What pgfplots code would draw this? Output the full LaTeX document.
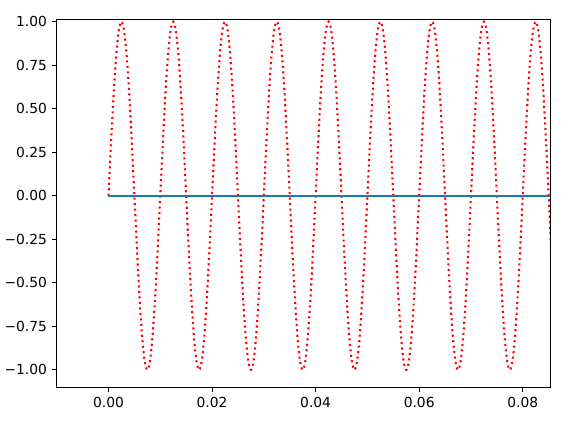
\documentclass[border=0pt]{standalone}
\usepackage{pgfplots}
\pgfplotsset{compat=1.18}
\usepackage{fontspec}
\setmainfont{DejaVu Sans}
\definecolor{mplblue}{HTML}{1F77B4}
\begin{document}
\begin{tikzpicture}
\begin{axis}[
  scale only axis,
  width=356.9pt, height=265.7pt,
  xmin=-0.01, xmax=0.0853,
  ymin=-1.1, ymax=1.01,
  axis line style={line width=0.8pt},
  tick style={line width=0.8pt, black},
  major tick length=3.5pt,
  tick align=outside,
  xtick pos=bottom, ytick pos=left,
  xtick={0,0.02,0.04,0.06,0.08},
  xticklabels={0.00,0.02,0.04,0.06,0.08},
  ytick={-1,-0.75,-0.5,-0.25,0,0.25,0.5,0.75,1},
  yticklabels={−1.00,−0.75,−0.50,−0.25,0.00,0.25,0.50,0.75,1.00},
  ticklabel style={font=\fontsize{10pt}{12pt}\selectfont},
  xticklabel style={yshift=-0pt},
  scaled x ticks=false,
]
\addplot[red, line width=1.5pt, dash pattern=on 1.5pt off 2.475pt, smooth] coordinates {
(0.0000,0) (0.0005,0.309) (0.0010,0.588) (0.0015,0.809) (0.0020,0.951) (0.0025,1) (0.0030,0.951) (0.0035,0.809) (0.0040,0.588) (0.0045,0.309)
(0.0050,0) (0.0055,-0.309) (0.0060,-0.588) (0.0065,-0.809) (0.0070,-0.951) (0.0075,-1) (0.0080,-0.951) (0.0085,-0.809) (0.0090,-0.588) (0.0095,-0.309)
(0.0100,0) (0.0105,0.309) (0.0110,0.588) (0.0115,0.809) (0.0120,0.951) (0.0125,1) (0.0130,0.951) (0.0135,0.809) (0.0140,0.588) (0.0145,0.309)
(0.0150,0) (0.0155,-0.309) (0.0160,-0.588) (0.0165,-0.809) (0.0170,-0.951) (0.0175,-1) (0.0180,-0.951) (0.0185,-0.809) (0.0190,-0.588) (0.0195,-0.309)
(0.0200,0) (0.0205,0.309) (0.0210,0.588) (0.0215,0.809) (0.0220,0.951) (0.0225,1) (0.0230,0.951) (0.0235,0.809) (0.0240,0.588) (0.0245,0.309)
(0.0250,0) (0.0255,-0.309) (0.0260,-0.588) (0.0265,-0.809) (0.0270,-0.951) (0.0275,-1) (0.0280,-0.951) (0.0285,-0.809) (0.0290,-0.588) (0.0295,-0.309)
(0.0300,0) (0.0305,0.309) (0.0310,0.588) (0.0315,0.809) (0.0320,0.951) (0.0325,1) (0.0330,0.951) (0.0335,0.809) (0.0340,0.588) (0.0345,0.309)
(0.0350,0) (0.0355,-0.309) (0.0360,-0.588) (0.0365,-0.809) (0.0370,-0.951) (0.0375,-1) (0.0380,-0.951) (0.0385,-0.809) (0.0390,-0.588) (0.0395,-0.309)
(0.0400,0) (0.0405,0.309) (0.0410,0.588) (0.0415,0.809) (0.0420,0.951) (0.0425,1) (0.0430,0.951) (0.0435,0.809) (0.0440,0.588) (0.0445,0.309)
(0.0450,0) (0.0455,-0.309) (0.0460,-0.588) (0.0465,-0.809) (0.0470,-0.951) (0.0475,-1) (0.0480,-0.951) (0.0485,-0.809) (0.0490,-0.588) (0.0495,-0.309)
(0.0500,0) (0.0505,0.309) (0.0510,0.588) (0.0515,0.809) (0.0520,0.951) (0.0525,1) (0.0530,0.951) (0.0535,0.809) (0.0540,0.588) (0.0545,0.309)
(0.0550,0) (0.0555,-0.309) (0.0560,-0.588) (0.0565,-0.809) (0.0570,-0.951) (0.0575,-1) (0.0580,-0.951) (0.0585,-0.809) (0.0590,-0.588) (0.0595,-0.309)
(0.0600,0) (0.0605,0.309) (0.0610,0.588) (0.0615,0.809) (0.0620,0.951) (0.0625,1) (0.0630,0.951) (0.0635,0.809) (0.0640,0.588) (0.0645,0.309)
(0.0650,0) (0.0655,-0.309) (0.0660,-0.588) (0.0665,-0.809) (0.0670,-0.951) (0.0675,-1) (0.0680,-0.951) (0.0685,-0.809) (0.0690,-0.588) (0.0695,-0.309)
(0.0700,0) (0.0705,0.309) (0.0710,0.588) (0.0715,0.809) (0.0720,0.951) (0.0725,1) (0.0730,0.951) (0.0735,0.809) (0.0740,0.588) (0.0745,0.309)
(0.0750,0) (0.0755,-0.309) (0.0760,-0.588) (0.0765,-0.809) (0.0770,-0.951) (0.0775,-1) (0.0780,-0.951) (0.0785,-0.809) (0.0790,-0.588) (0.0795,-0.309)
(0.0800,0) (0.0805,0.309) (0.0810,0.588) (0.0815,0.809) (0.0820,0.951) (0.0825,1) (0.0830,0.951) (0.0835,0.809) (0.0840,0.588) (0.0845,0.309)
(0.0850,0) (0.0855,-0.309) (0.0860,-0.588) (0.0865,-0.809) (0.0870,-0.951) (0.0875,-1) (0.0880,-0.951) (0.0885,-0.809) (0.0890,-0.588) (0.0895,-0.309)
(0.0900,0)
};
\addplot[mplblue, line width=1.5pt] coordinates {(0,0) (0.09,0)};
\end{axis}
\path ([xshift=-39.1pt,yshift=-24.5pt]current axis.south west) rectangle ([xshift=25.9pt,yshift=14.4pt]current axis.north east);
\end{tikzpicture}
\end{document}
